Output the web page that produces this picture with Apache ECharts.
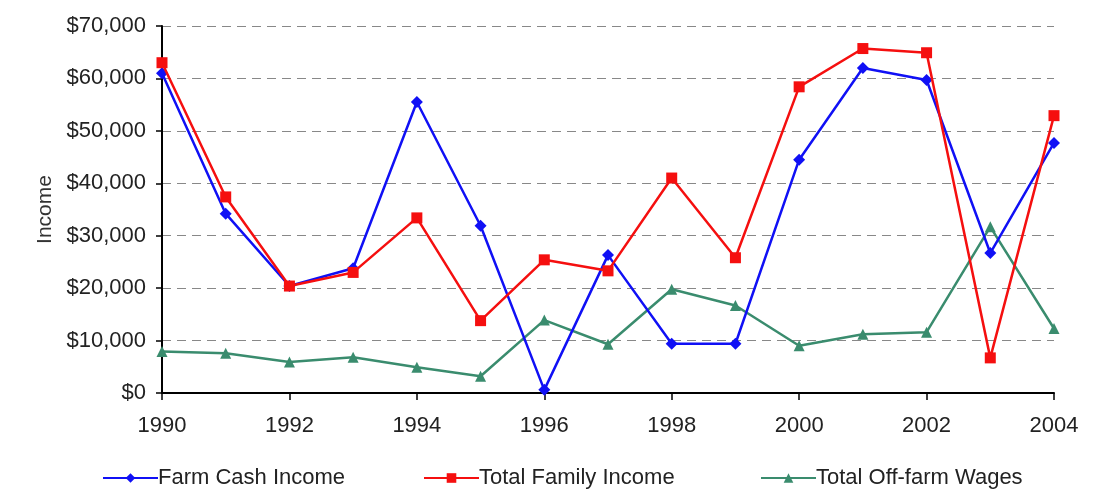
<!DOCTYPE html>
<html>
<head>
<meta charset="utf-8">
<script src="https://cdn.jsdelivr.net/npm/echarts@6/dist/echarts.min.js"></script>
<style>
html,body{margin:0;padding:0;background:#fff;}
#c{width:1108px;height:490px;}
</style>
</head>
<body>
<div id="c"></div>
<script>
var years = ['1990','1991','1992','1993','1994','1995','1996','1997','1998','1999','2000','2001','2002','2003','2004'];
var farmCashIncome = [61000, 34200, 20400, 23800, 55500, 31900, 600, 26300, 9400, 9400, 44500, 62000, 59700, 26700, 47700];
var totalFamilyIncome = [63000, 37400, 20400, 23000, 33400, 13800, 25400, 23300, 41000, 25800, 58400, 65700, 64900, 6700, 52900];
var totalOffFarmWages = [7900, 7600, 5900, 6800, 4900, 3200, 13900, 9300, 19800, 16700, 9000, 11200, 11600, 31700, 12300];
var yTicks = [0, 10000, 20000, 30000, 40000, 50000, 60000, 70000];

var FONT = 'Liberation Sans, Arial, sans-serif';
var chart = echarts.init(document.getElementById('c'));
function legendAt(name, left) {
  return {
    data: [name], left: left, top: 462, itemWidth: 55, itemHeight: 12, itemGap: 0,
    textStyle: {fontFamily: FONT, fontSize: 22, color: '#222', padding: [0, 0, 0, -5]}
  };
}
chart.setOption({
  backgroundColor: '#fff',
  animation: false,
  legend: [
    legendAt('Farm Cash Income', 97),
    legendAt('Total Family Income', 418),
    legendAt('Total Off-farm Wages', 755)
  ],
  grid: {left: 162, right: 54, top: 26, bottom: 97, containLabel: false},
  xAxis: {
    type: 'category', data: years, boundaryGap: false,
    axisLine: {lineStyle: {color: '#000', width: 2}},
    axisTick: {show: true, interval: 1, length: 7, lineStyle: {color: '#000', width: 1.5}},
    axisLabel: {interval: 1, margin: 22, fontFamily: FONT, fontSize: 22, color: '#222'},
    splitLine: {show: false}
  },
  yAxis: {
    type: 'value', min: 0, max: 70000, interval: 10000,
    name: 'Income', nameLocation: 'middle', nameGap: 106, nameRotate: 90,
    nameTextStyle: {fontFamily: FONT, fontSize: 21, color: '#333'},
    axisLine: {show: true, lineStyle: {color: '#000', width: 2}},
    axisTick: {show: true, length: 6, lineStyle: {color: '#000', width: 1.5}},
    axisLabel: {
      margin: 16, fontFamily: FONT, fontSize: 22, color: '#222',
      formatter: function (v) { return '$' + v.toLocaleString('en-US'); }
    },
    splitLine: {show: true, lineStyle: {color: '#888', type: [9, 6], width: 1}}
  },
  series: [
    {name: 'Farm Cash Income', type: 'line', data: farmCashIncome, color: '#1010f5',
     symbol: 'diamond', symbolSize: 12, lineStyle: {width: 2.5}, z: 3},
    {name: 'Total Family Income', type: 'line', data: totalFamilyIncome, color: '#f50f0f',
     symbol: 'rect', symbolSize: 11, lineStyle: {width: 2.5}, z: 4},
    {name: 'Total Off-farm Wages', type: 'line', data: totalOffFarmWages, color: '#3a8c6e',
     symbol: 'triangle', symbolSize: 11, lineStyle: {width: 2.5}, z: 2}
  ]
});
</script>
</body>
</html>
